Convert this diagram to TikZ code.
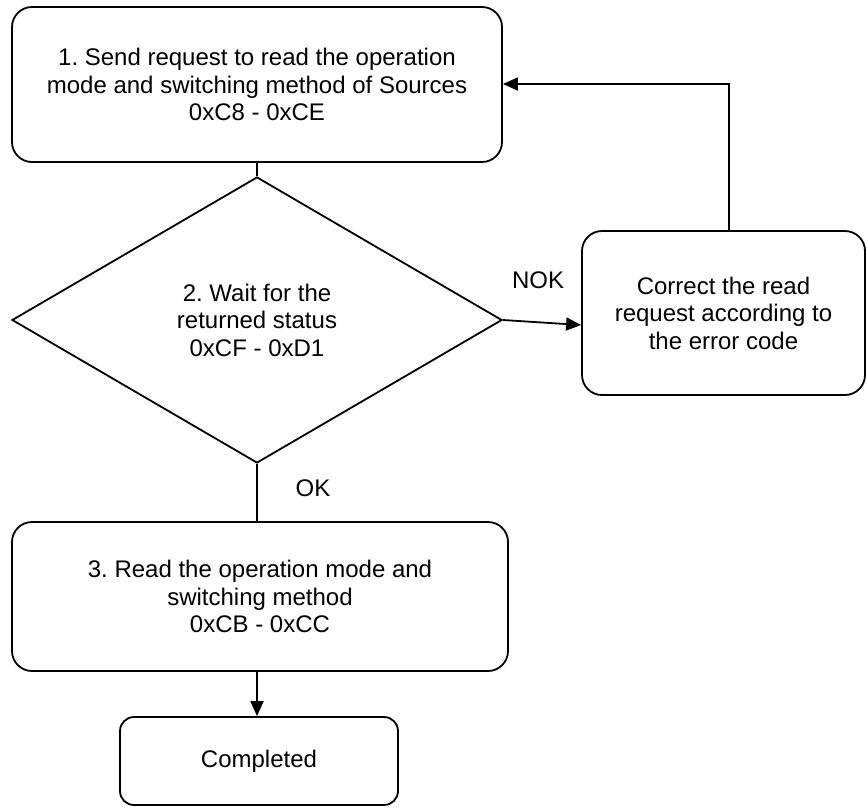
\documentclass[tikz,border=0pt]{standalone}
\usepackage{fontspec}
\setmainfont{Liberation Sans}
\usetikzlibrary{shapes.geometric,arrows.meta}
\frenchspacing
\begin{document}
\begin{tikzpicture}[x=1pt,y=-1pt,
  every node/.style={font=\fontsize{24}{27.5}\selectfont, align=center},
  flowbox/.style={draw, line width=1.8pt, rounded corners=20pt, inner sep=0pt},
  decision/.style={draw, line width=1.8pt, shape=diamond, aspect=1.713, inner sep=0pt,
    minimum width=490pt, minimum height=286pt},
  link/.style={line width=1.8pt},
  arrowlink/.style={line width=1.8pt, -{Triangle[length=15pt,width=13pt]}},
  lbl/.style={inner sep=0pt}
]
\useasboundingbox (0,0) rectangle (866,807);

\node[flowbox, minimum width=490pt, minimum height=155pt] (b1) at (257,84.5)
  {1. Send request to read the operation\\mode and switching method of Sources\\0xC8 - 0xCE};
\node[decision] (dia) at (257,320) {2. Wait for the\\returned status\\0xCF - 0xD1};
\node[flowbox, minimum width=283pt, minimum height=164pt] (b2) at (723.5,313)
  {Correct the read\\request according to\\the error code};
\node[flowbox, minimum width=496pt, minimum height=149pt] (b3) at (260,596.5)
  {3. Read the operation mode and\\switching method\\0xCB - 0xCC};
\node[flowbox, rounded corners=14pt, minimum width=278pt, minimum height=88pt] (done) at (259,761)
  {Completed};

\node[lbl] (nok) at (538,280) {NOK};
\node[lbl] (ok) at (313,488) {OK};

\coordinate (b2in) at ([yshift=-12pt]b2.west);
\coordinate (b2out) at (729,231);

\draw[link] (b1.south -| dia.north) -- (dia.north);
\draw[arrowlink] (dia.east) -- (b2in);
\draw[arrowlink] (b2out |- b2.north) |- (b1.east |- 0,84);
\draw[link] (dia.south) -- (dia.south |- b3.north);
\draw[arrowlink] (dia.south |- b3.south) -- (dia.south |- done.north);
\end{tikzpicture}
\end{document}
